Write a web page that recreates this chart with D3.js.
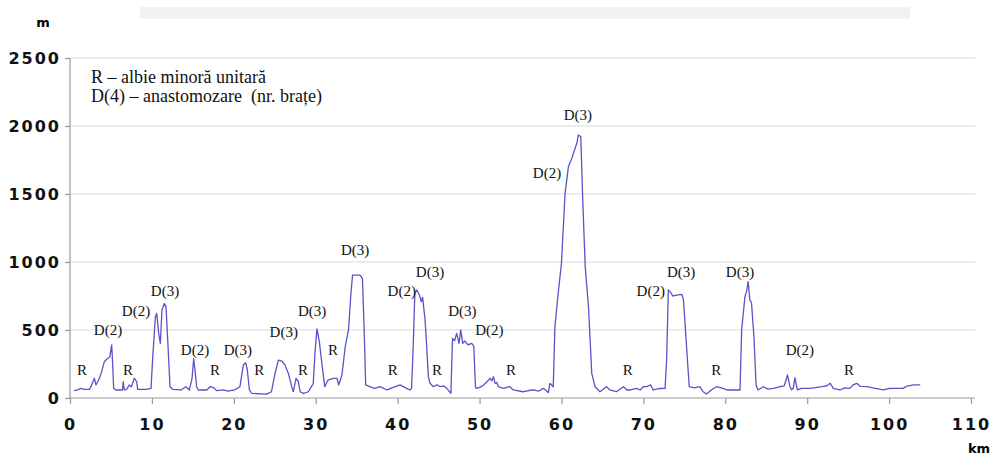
<!DOCTYPE html>
<html>
<head>
<meta charset="utf-8">
<script src="https://cdnjs.cloudflare.com/ajax/libs/d3/7.8.5/d3.min.js"></script>
<style>
  body { margin: 0; background: #fff; }
  svg { display: block; }
  .tick text { font-family: "DejaVu Sans", Verdana, sans-serif; font-weight: bold; font-size: 16px; letter-spacing: 2px; fill: #111; }
  .lbl { font-family: "Liberation Serif", "Times New Roman", serif; font-size: 15px; fill: #111; }
  .legend { font-family: "Liberation Serif", "Times New Roman", serif; font-size: 18px; fill: #111; }
</style>
</head>
<body>
<div id="container"></div>
<script>
// distance along the river (km) and channel width (m)
var km = [0.5, 0.9, 1.35, 1.75, 2.36, 2.56, 2.97, 3.17, 3.5, 3.8, 4.19, 4.4, 4.6, 4.85, 5.09, 5.2, 5.33, 5.6, 6.4, 6.5,
  6.63, 6.9, 7.25, 7.5, 7.85, 8.14, 8.26, 9.28, 9.89, 10.1, 10.42, 10.58, 10.83, 11.03, 11.23, 11.52, 11.72, 11.93, 12.21, 12.54,
  13.55, 14.16, 14.57, 14.9, 15.1, 15.26, 15.46, 15.67, 16.7, 17.1, 17.5, 17.9, 18.7, 19.3, 20.1, 20.75, 21.16, 21.45, 21.65, 21.9,
  22.2, 24.0, 24.6, 25.03, 25.44, 25.85, 26.25, 26.66, 27.07, 27.27, 27.6, 27.88, 28.1, 28.5, 29.1, 29.7, 29.9, 30.15, 30.44, 30.7,
  31.1, 31.5, 32.15, 32.6, 32.8, 33.2, 33.6, 34.0, 34.3, 34.5, 35.4, 35.7, 35.9, 36.1, 36.6, 37.2, 37.85, 38.7, 39.7, 40.3,
  41.1, 41.5, 41.7, 41.9, 42.1, 42.33, 42.65, 42.9, 43.05, 43.35, 43.55, 43.75, 43.96, 44.36, 44.8, 45.2, 45.6, 46.0, 46.5, 46.7,
  46.95, 47.2, 47.5, 47.7, 47.95, 48.2, 48.6, 49.05, 49.3, 49.5, 49.6, 50.1, 50.5, 50.9, 51.3, 51.5, 51.7, 51.9, 52.1, 52.3,
  52.9, 53.7, 54.1, 55.3, 56.0, 56.6, 57.2, 57.8, 58.4, 58.6, 59.0, 59.2, 59.6, 60.0, 60.44, 60.85, 61.26, 61.87, 62.07, 62.36,
  62.6, 62.9, 63.3, 63.7, 64.1, 64.7, 65.5, 65.9, 66.7, 67.56, 68.0, 68.4, 69.2, 69.6, 70.0, 70.4, 70.9, 71.2, 72.0, 72.65,
  72.85, 73.05, 73.26, 73.6, 74.07, 74.7, 74.9, 75.3, 75.6, 76.2, 76.9, 77.3, 77.7, 78.3, 78.9, 79.5, 80.2, 81.2, 81.8, 82.0,
  82.4, 82.6, 82.8, 83.0, 83.2, 83.5, 83.76, 84.0, 84.65, 85.2, 85.9, 86.7, 87.2, 87.6, 87.9, 88.1, 88.3, 88.5, 88.8, 89.3,
  90.35, 91.2, 91.8, 92.4, 92.8, 93.2, 94.0, 94.6, 95.2, 95.6, 96.05, 96.5, 97.3, 98.3, 99.3, 100.0, 100.5, 101.7, 102.2, 103.0,
  103.8];
var width_m = [55, 60, 70, 64, 64, 83, 145, 96, 132, 181, 267, 279, 292, 300, 390, 257, 71, 59, 59, 120,
  59, 64, 96, 83, 145, 120, 64, 64, 70, 300, 598, 622, 475, 402, 647, 696, 671, 426, 83, 64,
  59, 83, 59, 145, 290, 206, 83, 59, 59, 83, 78, 54, 59, 50, 59, 83, 243, 260, 206, 59,
  34, 29, 46, 181, 279, 272, 243, 181, 83, 46, 145, 120, 46, 34, 46, 108, 328, 508, 414, 279,
  83, 132, 145, 145, 96, 169, 377, 500, 770, 904, 904, 880, 524, 96, 83, 70, 83, 59, 83, 96,
  71, 59, 71, 377, 770, 794, 757, 708, 740, 574, 377, 157, 108, 83, 96, 83, 90, 71, 34, 439,
  420, 475, 402, 500, 402, 420, 390, 402, 380, 83, 71, 80, 96, 120, 145, 125, 157, 108, 115, 83,
  71, 83, 59, 46, 55, 59, 50, 71, 40, 108, 83, 524, 770, 990, 1505, 1700, 1762, 1873, 1934, 1921,
  1456, 965, 671, 181, 83, 46, 83, 60, 46, 83, 59, 59, 71, 59, 83, 83, 96, 59, 70, 71,
  300, 794, 782, 750, 757, 762, 721, 353, 83, 75, 83, 46, 29, 59, 83, 75, 59, 59, 59, 500,
  745, 782, 855, 721, 700, 451, 96, 59, 83, 65, 71, 83, 90, 169, 83, 60, 71, 150, 59, 71,
  71, 78, 83, 90, 108, 71, 59, 75, 71, 96, 108, 85, 83, 71, 59, 70, 71, 71, 88, 96,
  96];

// channel type annotations
var labelText = ['R', 'D(2)', 'R', 'D(2)', 'D(3)', 'D(2)', 'R', 'D(3)', 'R', 'D(3)', 'R', 'D(3)', 'R', 'D(3)', 'R',
  'D(2)', 'D(3)', 'R', 'D(3)', 'D(2)', 'R', 'D(2)', 'D(3)', 'R', 'D(2)', 'D(3)', 'R', 'D(3)', 'D(2)', 'R'];
var labelKm = [1.47, 4.64, 7.08, 8.06, 11.6, 15.26, 17.7, 20.5, 23.1, 26.1, 28.45, 29.55, 32.1, 34.8, 39.4,
  40.5, 43.95, 44.8, 47.9, 51.2, 53.85, 58.24, 62.0, 68.1, 70.9, 74.6, 78.9, 81.8, 89.1, 95.1];
var labelM = [206, 500, 206, 640, 787, 353, 206, 353, 206, 485, 206, 640, 353, 1088, 206,
  787, 926, 206, 640, 500, 206, 1654, 2081, 206, 787, 926, 206, 926, 353, 206];

var legendLines = ['R \u2013 albie minor\u0103 unitar\u0103', 'D(4) \u2013 anastomozare  (nr. bra\u021Be)'];
var yTicks = [0, 500, 1000, 1500, 2000, 2500];
var xTicks = [0, 10, 20, 30, 40, 50, 60, 70, 80, 90, 100, 110];

var svg = d3.select('#container').append('svg')
  .attr('width', 1004)
  .attr('height', 456);

var x = d3.scaleLinear().domain([0, 110]).range([70, 971]);
var y = d3.scaleLinear().domain([0, 2500]).range([398, 58]);

// faint band at the top of the original scan
svg.append('rect')
  .attr('x', 140).attr('y', 7).attr('width', 770).attr('height', 12)
  .attr('fill', '#f6f1f1');

// grid
svg.append('g').selectAll('line')
  .data(yTicks.slice(1))
  .enter()
  .append('line')
    .attr('x1', x(0)).attr('x2', x(110) + 4)
    .attr('y1', function(d) { return y(d); })
    .attr('y2', function(d) { return y(d); })
    .attr('stroke', '#dcdcdc')
    .attr('stroke-width', 1.2);

var yAxis = svg.append('g')
  .attr('transform', 'translate(' + x(0) + ',0)')
  .call(d3.axisLeft(y).tickValues(yTicks).tickSize(5).tickPadding(4).tickFormat(d3.format('d')));

var xAxis = svg.append('g')
  .attr('transform', 'translate(0,' + y(0) + ')')
  .call(d3.axisBottom(x).tickValues(xTicks).tickSize(6).tickPadding(15).tickFormat(d3.format('d')));

[yAxis, xAxis].forEach(function(a) {
  a.select('.domain').attr('stroke', '#999').attr('stroke-width', 1.2);
  a.selectAll('.tick line').attr('stroke', '#999').attr('stroke-width', 1.2);
});
xAxis.select('.domain').attr('d', 'M' + x(0) + ',0H' + (x(110) + 4));
yAxis.select('.domain').attr('d', 'M0,' + y(2500) + 'V' + y(0));

// axis units
svg.append('text').attr('x', 43).attr('y', 27)
  .attr('text-anchor', 'middle')
  .style('font-family', '"DejaVu Sans", sans-serif').style('font-weight', 'bold').style('font-size', '13px')
  .text('m');
svg.append('text').attr('x', 979).attr('y', 453)
  .attr('text-anchor', 'middle')
  .style('font-family', '"DejaVu Sans", sans-serif').style('font-weight', 'bold').style('font-size', '13px')
  .text('km');

// profile line
var pts = km.map(function(k, i) { return [k, width_m[i]]; });
var line = d3.line()
  .x(function(d) { return x(d[0]); })
  .y(function(d) { return y(d[1]); });

svg.append('path')
  .datum(pts)
  .attr('d', line)
  .attr('fill', 'none')
  .attr('stroke', '#5a52c8')
  .attr('stroke-width', 1.3)
  .attr('stroke-linejoin', 'round');

// annotations
svg.append('g').selectAll('text')
  .data(labelText)
  .enter()
  .append('text')
    .attr('class', 'lbl')
    .attr('x', function(d, i) { return x(labelKm[i]); })
    .attr('y', function(d, i) { return y(labelM[i]); })
    .attr('dy', '0.35em')
    .attr('text-anchor', 'middle')
    .text(function(d) { return d; });

// legend
svg.append('g').selectAll('text')
  .data(legendLines)
  .enter()
  .append('text')
    .attr('class', 'legend')
    .attr('x', 91)
    .attr('y', function(d, i) { return 83 + i * 19; })
    .style('white-space', 'pre')
    .text(function(d) { return d; });
</script>
</body>
</html>
